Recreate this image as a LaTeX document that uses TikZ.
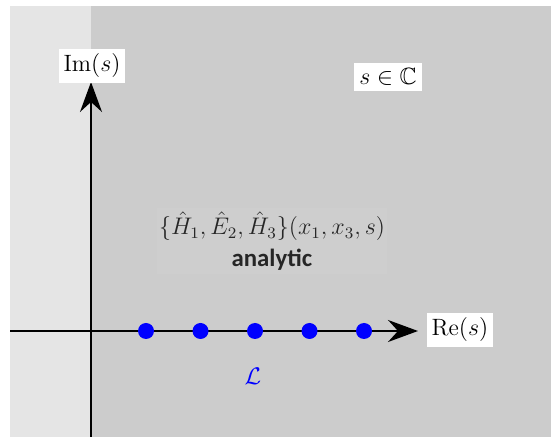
\documentclass[tikz,border=0pt]{standalone}
\usepackage{amssymb}
\usepackage{fontspec}
\newfontfamily\labfont{Carlito}
\usetikzlibrary{arrows.meta}
\tikzset{
  axis/.style={line width=1pt, -{Stealth[length=15pt,width=11pt,inset=5pt]}},
  lbl/.style={fill=white, inner xsep=2.5pt, inner ysep=2.5pt, font=\fontsize{11.8}{14}\selectfont},
  pt/.style={circle, fill=blue, inner sep=0pt, minimum size=8pt},
}
\begin{document}
\begin{tikzpicture}[x=0.5pt,y=-0.5pt]
\useasboundingbox (0,0) rectangle (551,437);
\fill[white] (0,0) rectangle (551,437);
\fill[gray!20] (10,6) rectangle (91,437);
\fill[gray!40] (91,6) rectangle (551,437);
% center text
\node[fill=gray!38.5, inner xsep=1pt, inner ysep=2pt, align=center, text=black!85, font=\fontsize{11.8}{16}\selectfont] (txt) at (272,241)
  {$\{\hat H_1,\hat E_2,\hat H_3\}(x_1,x_3,s)$\\[0pt] {\labfont\bfseries\fontsize{12.4}{14}\selectfont analytic}};
% axes
\coordinate (xs) at (10,331);
\coordinate (xe) at (418,331);
\coordinate (ys) at (91,437);
\coordinate (ye) at (91,82);
\draw[axis] (xs) -- (xe);
\draw[axis] (ys) -- (ye);
% labels
\node[lbl] (im) at (92,66) {$\mathrm{Im}(s)$};
\node[lbl] (re) at (460,330) {$\mathrm{Re}(s)$};
\node[lbl] (sc) at (388,77) {$s\in\mathbb{C}$};
% dots
\foreach \i/\x in {1/146,2/200.5,3/255,4/309.5,5/364}
  \node[pt] (p\i) at (\x,331) {};
\node[text=blue, font=\fontsize{11.5}{13}\selectfont] (L) at (253,376) {$\mathcal{L}$};
\end{tikzpicture}
\end{document}
